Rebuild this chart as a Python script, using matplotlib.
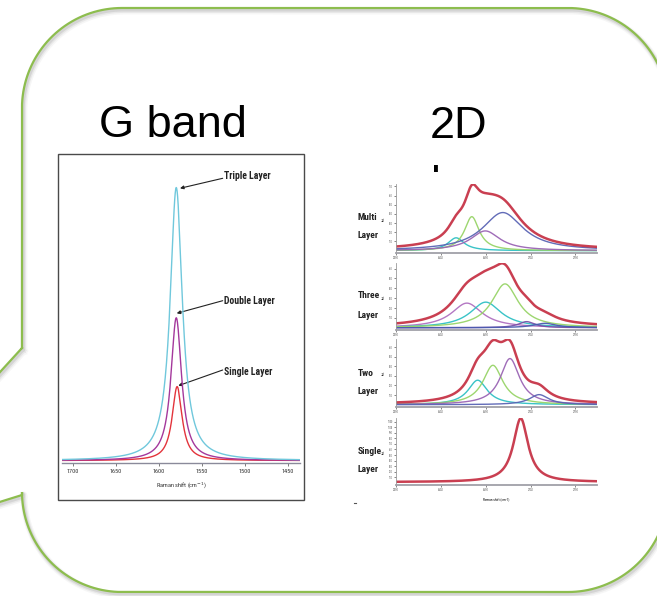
import numpy as np
import matplotlib
matplotlib.use("Agg")
import matplotlib.pyplot as plt
from matplotlib.patches import Rectangle
from matplotlib import font_manager as fm

W, H = 657, 596

# ---------------- G band spectra (Raman shift cm^-1, arb. units) ----------------
g_layers = ["Single Layer", "Double Layer", "Triple Layer"]
g_centers = [1579, 1580, 1580]
g_heights = [1.0, 1.93, 3.69]
g_fwhm = [14, 15, 17]
g_colors = ["#e3343c", "#a4389c", "#70c8dc"]
g_ticks = [1700, 1650, 1600, 1550, 1500, 1450]
g_xlabel = "Raman shift (cm$^{-1}$)"

# ---------------- 2D band fitted components (cm^-1, counts) ----------------
panel_names = ["Multi\nLayer", "Three\nLayer", "Two\nLayer", "Single\nLayer"]

multi_centers = [2617, 2634.5, 2649.5, 2669]
multi_heights = [140, 370, 215, 415]
multi_fwhm = [22, 20, 40, 55]
multi_colors = ["#2fc0c4", "#98d468", "#9a64b4", "#5a64b4"]

three_centers = [2629, 2650, 2671.5, 2695.5, 2716]
three_heights = [250, 260, 445, 62, 45]
three_fwhm = [42, 42, 36, 22, 30]
three_colors = ["#b070c0", "#2fc0c4", "#98d468", "#7a50a8", "#4a5ab0"]

two_centers = [2641, 2658, 2677, 2709.5]
two_heights = [255, 410, 480, 105]
two_fwhm = [26, 27, 26, 26]
two_colors = ["#2fc0c4", "#98d468", "#9a64b4", "#5a64b4"]

single_centers = [2689]
single_heights = [1150]
single_fwhm = [20]
single_colors = ["#c82c40"]

d_ticks = [2550, 2600, 2650, 2700, 2750]
d_xlabel = "Raman shift (cm-1)"


def lorentz(x, c, h, w):
    return h / (1.0 + ((x - c) / (w / 2.0)) ** 2)


def px_axes(fig, x0, y0, x1, y1):
    return fig.add_axes([x0 / W, 1 - y1 / H, (x1 - x0) / W, (y1 - y0) / H])


# pick a narrow sans face for the small labels, if one is installed
_fonts = fm.fontManager.ttflist
_names = {f.name for f in _fonts}
NARROW = None
for cand in ["Liberation Sans Narrow", "Arial Narrow", "Roboto Condensed",
             "Noto Sans Condensed", "Open Sans Condensed",
             "DejaVu Sans Condensed"]:
    if cand in _names:
        NARROW = dict(family=cand)
        break
if NARROW is None:
    for fam in ["DejaVu Sans", "Noto Sans", "Open Sans", "Roboto"]:
        if any(f.name == fam and f.stretch in ("condensed", "semi-condensed")
               for f in _fonts):
            NARROW = dict(family=fam, stretch="condensed")
            break
if NARROW is None:
    NARROW = dict(family="Liberation Sans")
    SZ = 0.74
else:
    SZ = 1.0

fig = plt.figure(figsize=(W / 100, H / 100), dpi=100)
fig.patch.set_facecolor("white")

# ---------------- background canvas in pixel units ----------------
bg = fig.add_axes([0, 0, 1, 1])
bg.set_xlim(0, W)
bg.set_ylim(H, 0)
bg.axis("off")


def arc(cx, cy, r, a0, a1, n=40):
    t = np.radians(np.linspace(a0, a1, n))
    return cx + r * np.cos(t), cy + r * np.sin(t)


R = 100
xs, ys = [22], [348]
for (cx, cy, a0, a1) in [(122, 108, 180, 270), (568, 108, 270, 360),
                         (568, 492, 0, 90), (122, 492, 90, 180)]:
    ax_, ay_ = arc(cx, cy, R, a0, a1)
    xs.extend(ax_)
    ys.extend(ay_)
xs += [22, -10, -10, 22]
ys += [495, 505, 383, 348]
xs = np.array(xs)
ys = np.array(ys)

# soft drop shadow under the callout outline
for off, lw, a in [(3.0, 5, 0.06), (2.5, 3.5, 0.10), (2.0, 2.2, 0.16)]:
    bg.plot(xs + off * 0.6, ys + off, color="#707070", lw=lw, alpha=a,
            solid_joinstyle="round", zorder=1)
bg.plot(xs, ys, color="#8dbd4e", lw=1.6, solid_joinstyle="miter", zorder=2)

# headings
bg.text(99, 137, "G band", fontsize=32.5, family="Liberation Sans",
        ha="left", va="baseline", zorder=3)
bg.text(430, 138, "2D", fontsize=32.5, family="Liberation Sans",
        ha="left", va="baseline", zorder=3)
bg.text(430, 197, "b", fontsize=32.5, family="Liberation Sans",
        ha="left", va="baseline", zorder=3)
# picture of the 2D spectra sits over the second heading line
bg.add_patch(Rectangle((345, 172), 260, 340, facecolor="white",
                       edgecolor="none", zorder=4))

# G band picture frame
bg.add_patch(Rectangle((58, 154), 246, 346, facecolor="white",
                       edgecolor="#4a4a4a", lw=1.0, zorder=4))

# ---------------- G band plot ----------------
gax = px_axes(fig, 62, 160, 300, 463)
gax.set_zorder(5)
gax.patch.set_alpha(0)
xg = np.linspace(1436, 1713, 1500)
for name, c, h, w, col in zip(g_layers, g_centers, g_heights, g_fwhm, g_colors):
    gax.plot(xg, lorentz(xg, c, h, w) + 0.012, color=col, lw=1.0)
gax.set_xlim(1713, 1436)
px_per_unit = 74.0
gax.set_ylim(-1.5 / px_per_unit, (463 - 160 - 1.5) / px_per_unit)
for s in ["top", "right", "left"]:
    gax.spines[s].set_visible(False)
gax.spines["bottom"].set_color("#8a8a9a")
gax.spines["bottom"].set_linewidth(1.0)
gax.set_yticks([])
gax.set_xticks(g_ticks)
gax.set_xticklabels([str(t) for t in g_ticks], fontsize=4.5 * SZ,
                    color="#333333", **NARROW)
gax.tick_params(axis="x", length=2, width=0.6, color="#666666", pad=2)
gax.set_xlabel(g_xlabel, fontsize=4.5 * SZ, color="#333333", labelpad=5,
               **NARROW)

# annotations
ann = [("Triple Layer", (222.7, 178.3), (180.0, 188.3), 176.0),
       ("Double Layer", (222.7, 300.7), (176.7, 313.3), 300.7),
       ("Single Layer", (222.7, 370.0), (178.3, 385.7), 371.7)]
for label, p0, p1, ty in ann:
    bg.annotate("", xy=p1, xytext=p0,
                arrowprops=dict(arrowstyle="-|>", lw=0.8, color="#222222",
                                mutation_scale=5, shrinkA=0, shrinkB=0),
                zorder=6)
    bg.text(224, ty, label, fontsize=7.0 * SZ, fontweight="bold",
            ha="left", va="center", color="#222222", zorder=6, **NARROW)
bg.set_zorder(0)

# ---------------- 2D band panels ----------------
panels = [
    (multi_centers, multi_heights, multi_fwhm, multi_colors, 184, 253),
    (three_centers, three_heights, three_fwhm, three_colors, 263, 330),
    (two_centers, two_heights, two_fwhm, two_colors, 339, 407),
    (single_centers, single_heights, single_fwhm, single_colors, 418, 485),
]
xd = np.linspace(2550, 2774, 1200)
label_y = [(217.7, 236.0), (296.0, 315.0), (374.0, 392.0), (452.0, 469.0)]
for i, (cs, hs, ws, cols, y0, y1) in enumerate(panels):
    ax = px_axes(fig, 396, y0, 597, y1)
    ax.set_zorder(5)
    ax.patch.set_alpha(0)
    comps = [lorentz(xd, c, h, w) for c, h, w in zip(cs, hs, ws)]
    total = np.sum(comps, axis=0)
    if len(comps) > 1:
        for comp, col in zip(comps, cols):
            ax.plot(xd, comp, color=col, lw=1.0, alpha=0.95)
    ax.plot(xd, total + 0.01 * total.max(), color="#c42a3e", lw=1.8,
            alpha=0.9)
    peak = total.max() * 1.01
    ax.set_xlim(2550, 2774)
    ax.set_ylim(-0.035 * peak, peak * 1.005)
    for s in ["top", "right"]:
        ax.spines[s].set_visible(False)
    ax.spines["left"].set_color("#9a9a9a")
    ax.spines["bottom"].set_color("#a0a0a8")
    ax.spines["left"].set_linewidth(0.6)
    ax.spines["bottom"].set_linewidth(1.3)
    ax.set_xticks(d_ticks)
    ax.set_xticklabels([str(t) for t in d_ticks], fontsize=2.2, **NARROW)
    yt = np.arange(100, peak, 100)
    ax.set_yticks(yt)
    ax.set_yticklabels([str(int(v)) for v in yt], fontsize=2.0, **NARROW)
    ax.tick_params(length=1.5, width=0.5, pad=0.6, colors="#555555")
    ax.set_ylabel("Int.", fontsize=2.5, **NARROW)
    ax.yaxis.set_label_coords(-0.052, 0.5)
    n1, n2 = panel_names[i].split("\n")
    bg.text(358, label_y[i][0], n1, fontsize=6.8 * SZ, fontweight="bold",
            ha="left", va="center", color="#222222", zorder=6, **NARROW)
    bg.text(358, label_y[i][1], n2, fontsize=6.8 * SZ, fontweight="bold",
            ha="left", va="center", color="#222222", zorder=6, **NARROW)
    if i == 3:
        ax.set_xlabel(d_xlabel, fontsize=2.5, labelpad=4, **NARROW)

bg.plot([354, 356], [503, 503], color="#555555", lw=0.8, zorder=6)

fig.savefig("out.png", dpi=100, facecolor="white")
